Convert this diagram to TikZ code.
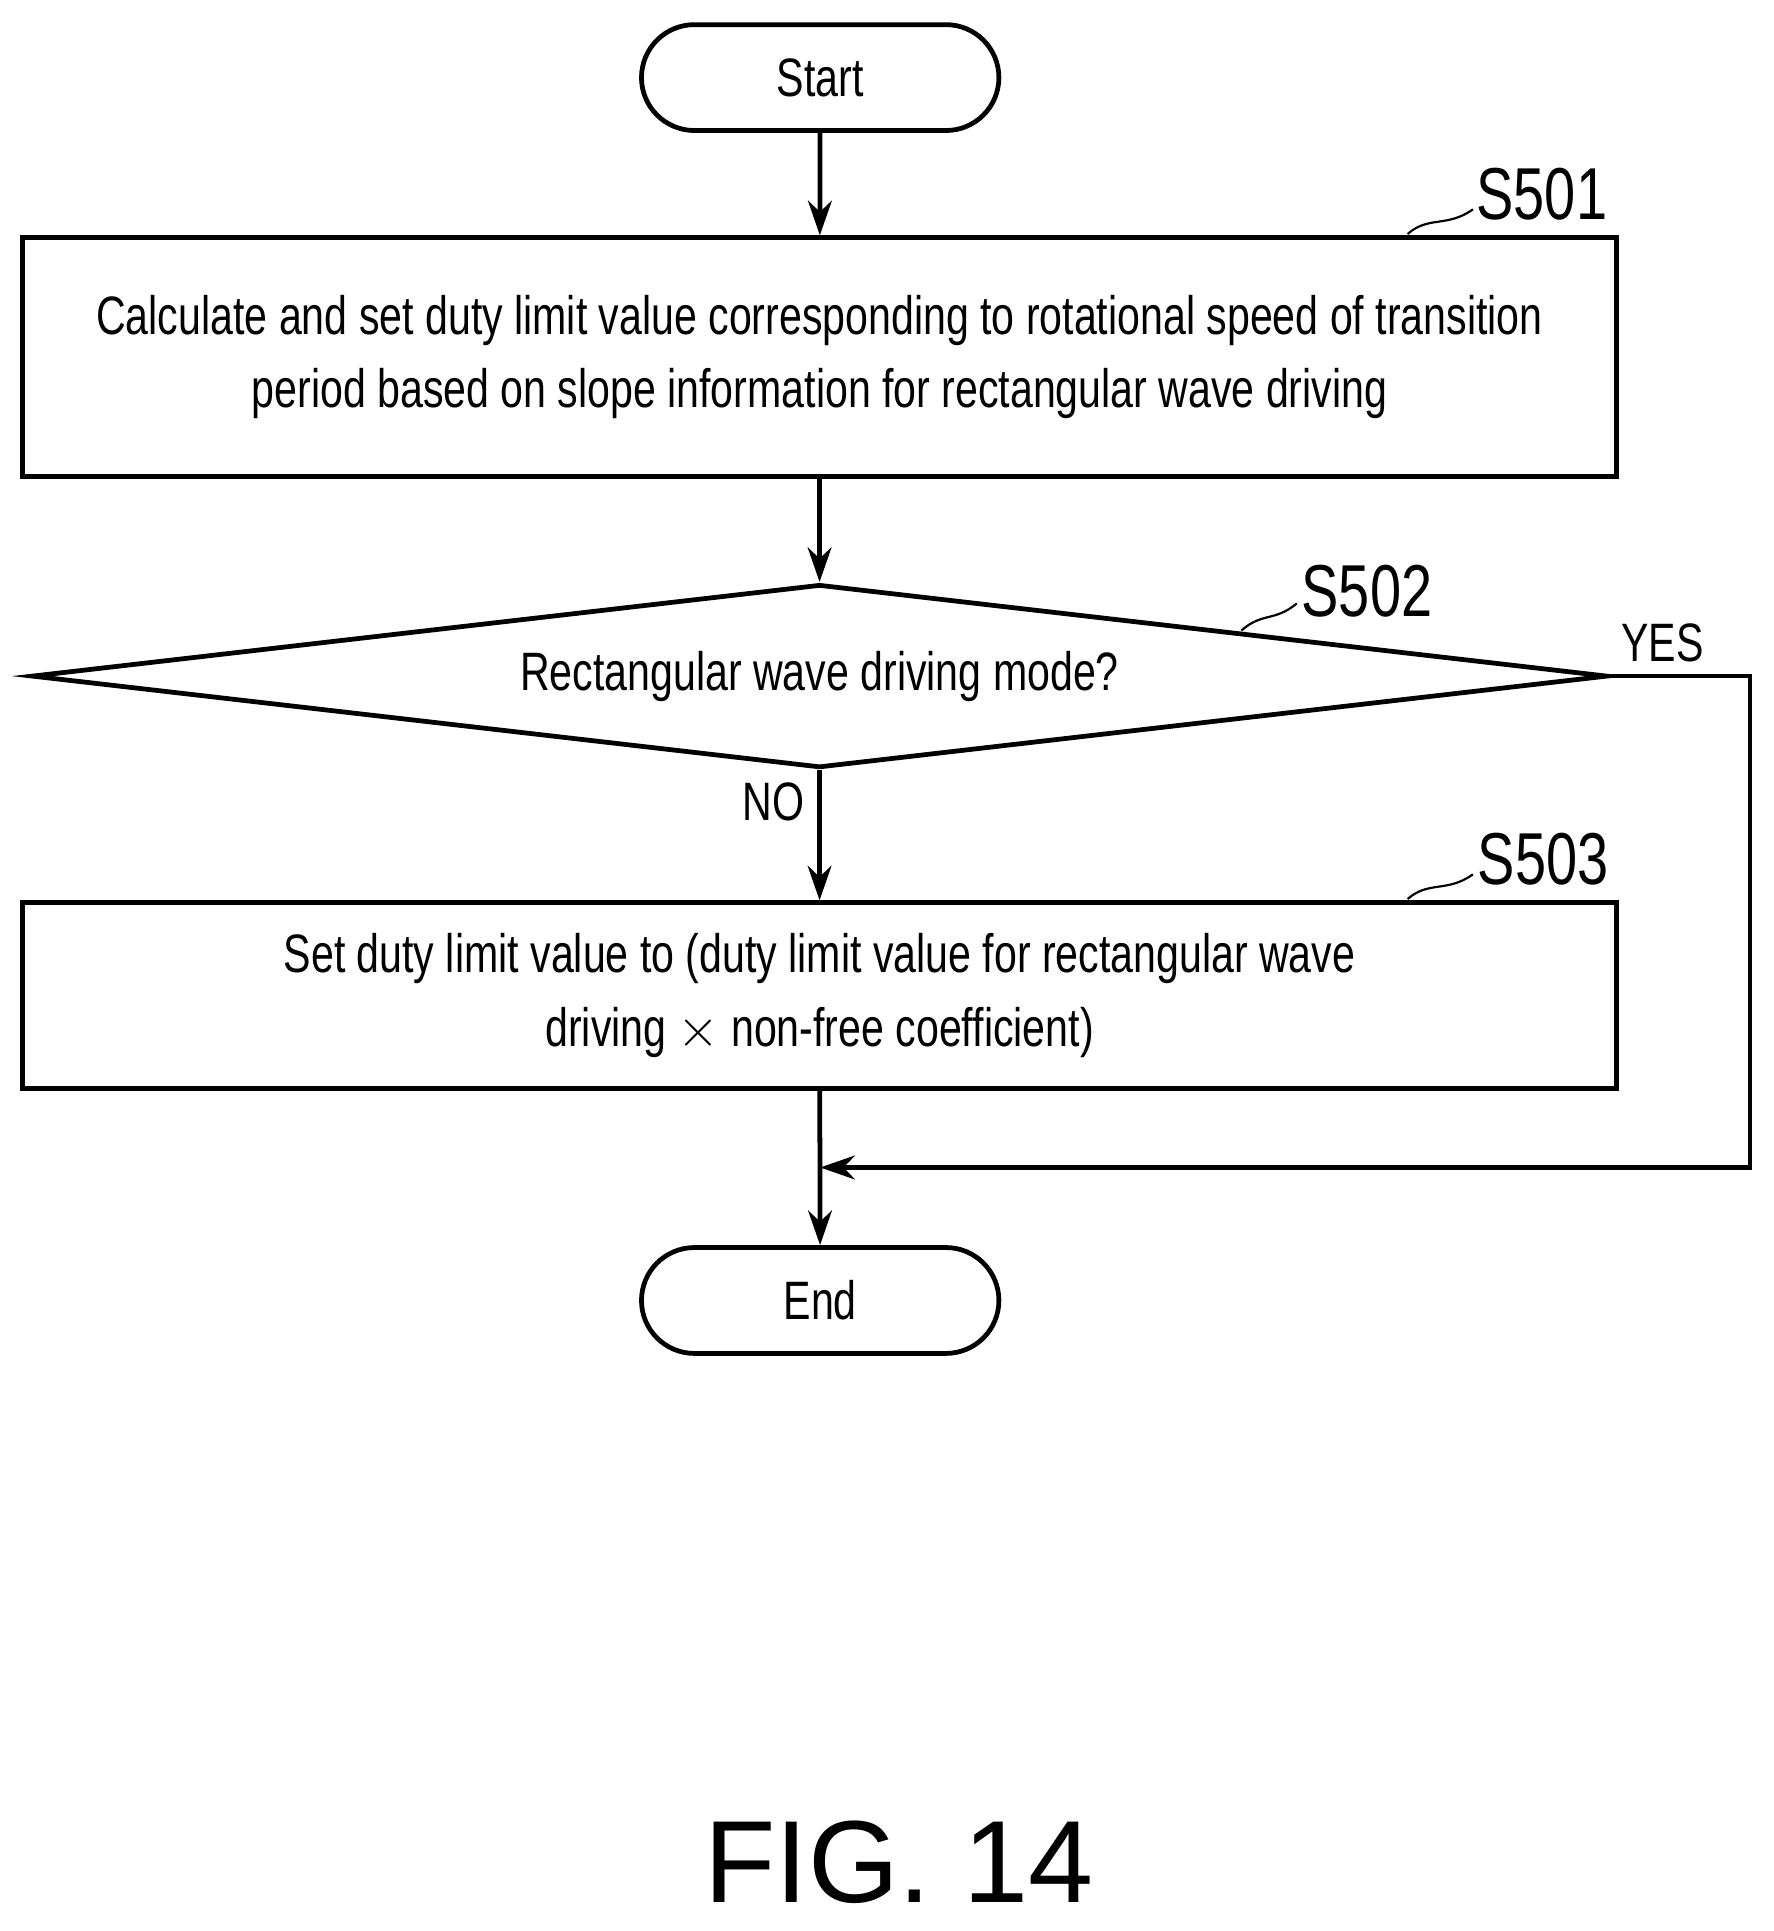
\documentclass[tikz,border=0pt]{standalone}
\usepackage{fontspec}
\setmainfont{Liberation Sans}[FakeStretch=0.76]
\newfontfamily\figfont{Liberation Sans}
\usetikzlibrary{shapes.geometric,shapes.misc,arrows.meta}
\begin{document}
\begin{tikzpicture}[x=0.02cm,y=-0.02cm,
  line width=2.2pt,
  txt/.style={font=\fontsize{25}{34}\selectfont,align=center},
  box/.style={draw,minimum width=25.9cm,txt},
  term/.style={draw,rounded rectangle,minimum width=6.04cm,minimum height=1.72cm,txt},
  arr/.style={-{Stealth[length=16pt,width=11pt]}},
  lbl/.style={font=\fontsize{34}{36}\selectfont}]
\useasboundingbox (0,0) rectangle (1440,1568);
\node[term] (start) at (666,63) {Start};
\node[box,minimum height=3.88cm] (s501) at (665.5,290) {Calculate and set duty limit value corresponding to rotational speed of transition\\period based on slope information for rectangular wave driving};
\node[draw,diamond,aspect=8.63,inner sep=0pt,minimum width=25.6cm,minimum height=2.98cm] (s502) at (665.5,549) {};
\node[txt] at (665.5,549) {Rectangular wave driving mode?};
\node[box,minimum height=3.02cm] (s503) at (665.5,808.5) {Set duty limit value to (duty limit value for rectangular wave\\driving $\times$ non-free coefficient)};
\node[term] (end) at (666,1056) {End};
\coordinate (yr) at (1421,549);
\coordinate (yb) at (1421,948);
\coordinate (join) at (666,948);
\draw[arr] (start) -- (s501);
\draw[arr] (s501) -- (s502.north);
\draw[arr] (s502.south) -- (s503);
\draw[arr] (s503) -- (end);
\draw[arr] (s502.east) -- (yr) -- (yb) -- (join);
\node[txt] at (1350,522) {YES};
\node[txt] at (628,651) {NO};
\node[lbl] (l1) at (1252,158) {S501};
\node[lbl] (l2) at (1110,480) {S502};
\node[lbl] (l3) at (1253,698) {S503};
\draw[line width=1pt] (1143,190) .. controls (1160,175) and (1175,185) .. (1196,170);
\draw[line width=1pt] (1008,512) .. controls (1025,497) and (1035,505) .. (1053,490);
\draw[line width=1pt] (1143,730) .. controls (1160,715) and (1175,725) .. (1196,710);
\node[font=\figfont\fontsize{54}{58}\selectfont] (fig) at (730,1512) {FIG. 14};
\end{tikzpicture}
\end{document}
